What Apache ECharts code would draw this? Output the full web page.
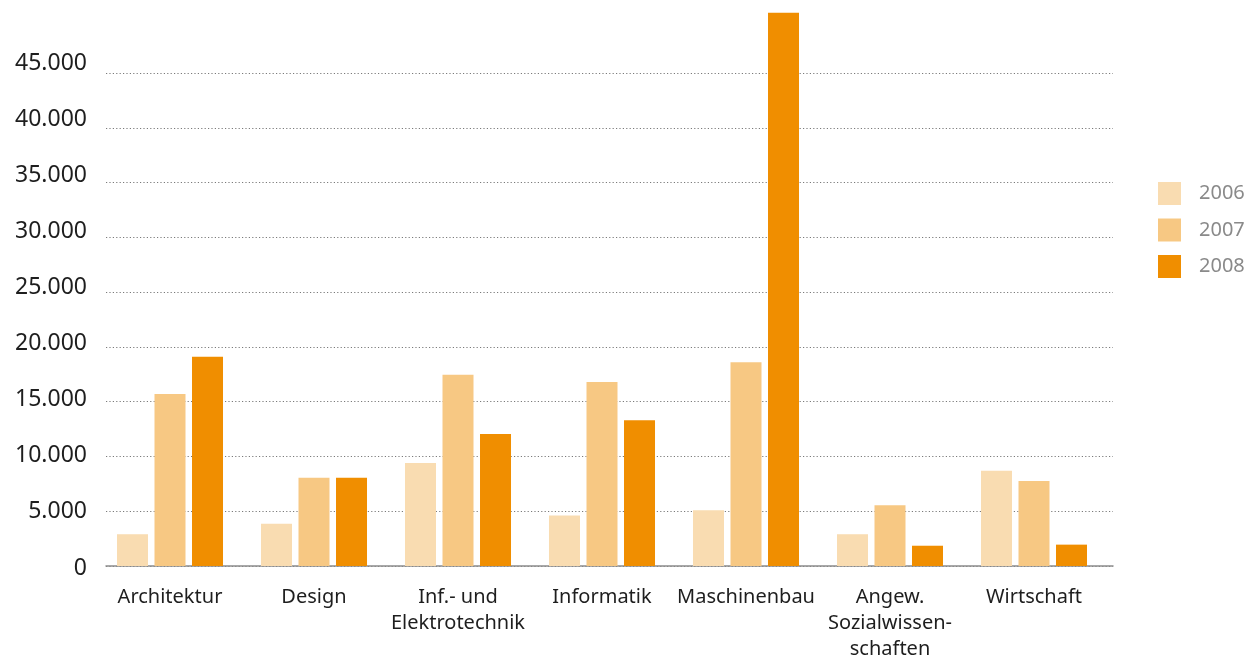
<!DOCTYPE html>
<html>
<head>
<meta charset="utf-8">
<script src="https://cdn.jsdelivr.net/npm/echarts@6/dist/echarts.min.js"></script>
<style>
html,body{margin:0;padding:0;background:#fff;}
#chart{width:1254px;height:659px;}
</style>
</head>
<body>
<div id="chart"></div>
<script>
const categories = ['Architektur', 'Design', 'Inf.- und\nElektrotechnik', 'Informatik', 'Maschinenbau', 'Angew.\nSozialwissen-\nschaften', 'Wirtschaft'];
const years = ['2006', '2007', '2008'];
const values2006 = [2900, 3850, 9400, 4600, 5100, 2900, 8700];
const values2007 = [15700, 8050, 17450, 16800, 18600, 5550, 7750];
const values2008 = [19100, 8050, 12050, 13300, 50500, 1850, 1950];
const yTicks = [0, 5000, 10000, 15000, 20000, 25000, 30000, 35000, 40000, 45000];
const colors = ['#F9DCB1', '#F7C883', '#F08E00'];

const yMin = yTicks[0];
const yMax = yTicks[yTicks.length - 1];
const yStep = yTicks[1] - yTicks[0];
const fmt = v => v === 0 ? '0' : v.toLocaleString('de-DE');

const seriesData = [values2006, values2007, values2008];
const chart = echarts.init(document.getElementById('chart'), null, {renderer: 'canvas'});
chart.setOption({
  animation: false,
  backgroundColor: '#ffffff',
  textStyle: {fontFamily: 'Noto Sans'},
  grid: [
    {left: 106, right: 141, top: 73, bottom: 93, outerBoundsMode: 'none', containLabel: false},
    {left: 98, right: 148, top: 73, bottom: 93, outerBoundsMode: 'none', containLabel: false},
    {left: 106, right: 141, top: 63, bottom: 91, outerBoundsMode: 'none', containLabel: false}
  ],
  xAxis: [
    {gridIndex: 0, type: 'category', data: categories, axisLine: {show: true, lineStyle: {color: '#8c8c8c', width: 1.5}}, axisTick: {show: false}, axisLabel: {show: false}, splitLine: {show: false}},
    {gridIndex: 1, type: 'category', data: categories, axisLine: {show: false}, axisTick: {show: false},
      axisLabel: {show: true, interval: 0, margin: 18, color: '#1e1e1e', fontSize: 20, lineHeight: 26, fontFamily: 'Noto Sans', align: 'center'}},
    {gridIndex: 2, type: 'value', show: false}
  ],
  yAxis: [
    {gridIndex: 0, type: 'value', min: yMin, max: yMax, interval: yStep, axisLine: {show: false}, axisTick: {show: false}, axisLabel: {show: false},
      splitLine: {show: true, lineStyle: {color: '#7a7a7a', width: 1, type: [1.2, 2.2]}}},
    {gridIndex: 1, type: 'value', min: yMin, max: yMax, interval: yStep, show: false},
    {gridIndex: 2, type: 'value', min: yMin, max: yMax, interval: yStep, axisLine: {show: false}, axisTick: {show: false}, splitLine: {show: false},
      axisLabel: {show: true, margin: 19, color: '#1e1e1e', fontSize: 23, fontFamily: 'Noto Sans', formatter: fmt}}
  ],
  legend: {
    orient: 'vertical', left: 1158, top: 182, padding: 0,
    itemWidth: 23, itemHeight: 23, itemGap: 13.5,
    icon: 'rect',
    data: years,
    textStyle: {color: '#8a8a8a', fontSize: 20, fontFamily: 'Noto Sans', padding: [0, 0, 0, 13]}
  },
  series: years.map((y, i) => ({
    name: y, type: 'bar', xAxisIndex: 1, yAxisIndex: 1,
    data: seriesData[i], barWidth: 31, barGap: '21%', clip: false,
    itemStyle: {color: colors[i]}
  }))
});
</script>
</body>
</html>
